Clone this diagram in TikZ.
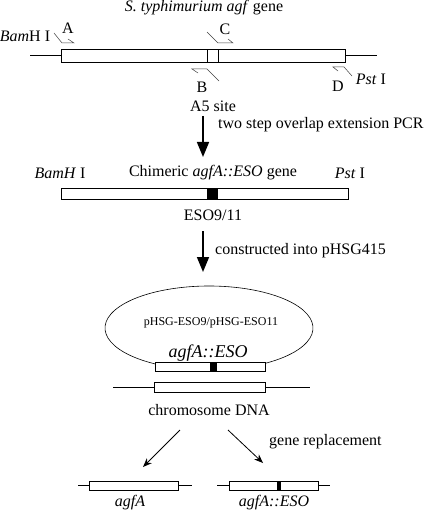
\documentclass[tikz,border=0pt]{standalone}
\usepackage{fontspec}
\setmainfont{Liberation Serif}
\usetikzlibrary{arrows.meta}
\begin{document}
\begin{tikzpicture}[x=1pt,y=-1pt,
  lbl/.style={inner sep=0pt, font=\fontsize{16}{18}\selectfont},
  smalllbl/.style={inner sep=0pt, font=\fontsize{12}{14}\selectfont},
  genebox/.style={draw, line width=0.6pt, fill=white, inner sep=0pt},
  dna/.style={line width=1pt},
  primer/.style={line width=0.5pt, black!75},
  bigarrow/.style={line width=1.6pt, -{Triangle[length=15pt,width=12pt]}},
  thinarrow/.style={line width=0.8pt, -{Stealth[length=9pt,width=7pt]}}]
\useasboundingbox (0,0) rectangle (425,513);
% ---------- top gene ----------
\node[lbl] (title) at (204,8) {\textit{S. typhimurium agf} gene};
\coordinate (l1a) at (30,56);
\coordinate (l1b) at (377,56);
\draw[dna] (l1a) -- (l1b);
\node[genebox, minimum width=284pt, minimum height=13pt] (g1) at (203,56) {};
\draw[line width=0.6pt] (207,50) -- (207,62.5) (218,50) -- (218,62.5);
% primers
\draw[primer] (54,33) -- (62,43) -- (74,43) -- (68,39);
\draw[primer] (207,32) -- (218,43) -- (233,43) -- (228,39);
\draw[primer] (219,81) -- (207,69) -- (192,69) -- (198,73);
\draw[primer] (352,76) -- (344,67) -- (333,67) -- (338,71);
\node[lbl] (bam1) at (25,36) {\textit{Bam}H I};
\node[lbl] (pA) at (68,28) {A};
\node[lbl] (pC) at (225,29) {C};
\node[lbl] (pB) at (202,87) {B};
\node[lbl] (pD) at (338,86) {D};
\node[lbl] (pst1) at (371,79) {\textit{Pst} I};
\node[lbl] (a5) at (213,106) {A5 site};
% ---------- arrow 1 ----------
\coordinate (ar1s) at (203,116);
\coordinate (ar1e) at (203,157);
\draw[bigarrow] (ar1s) -- (ar1e);
\node[lbl, anchor=west] (step1) at (218,125) {two step overlap extension PCR};
% ---------- chimeric gene ----------
\node[lbl] (bam2) at (60,173) {\textit{BamH} I};
\node[lbl] (chim) at (213,173) {Chimeric \textit{agfA::ESO} gene};
\node[lbl] (pst2) at (350,173) {\textit{Pst} I};
\node[genebox, minimum width=287pt, minimum height=11pt] (g2) at (204.5,193.5) {};
\fill (207,188) rectangle (218,199);
\node[lbl] (eso) at (213,215) {ESO9/11};
% ---------- arrow 2 ----------
\coordinate (ar2s) at (203,231);
\coordinate (ar2e) at (203,272);
\draw[bigarrow] (ar2s) -- (ar2e);
\node[lbl, anchor=west] (step2) at (215,251) {constructed into pHSG415};
% ---------- plasmid ----------
\draw[line width=0.6pt] (209,328) ++(121.3:104 and 42) arc[start angle=121.3, end angle=417.4, x radius=104, y radius=42];
\node[smalllbl] (phsg) at (211,323) {pHSG-ESO9/pHSG-ESO11};
\node[inner sep=0pt, font=\fontsize{18}{20}\selectfont\itshape] (pl) at (208,353) {agfA::ESO};
\node[genebox, minimum width=110pt, minimum height=9pt] (g3) at (210,367) {};
\fill (210,362.5) rectangle (216.5,371.5);
% ---------- chromosome ----------
\coordinate (l4a) at (113,387);
\coordinate (l4b) at (310,387);
\draw[dna] (l4a) -- (l4b);
\node[genebox, minimum width=111pt, minimum height=10pt] (g4) at (209.5,387) {};
\node[lbl] (chr) at (209,410) {chromosome DNA};
% ---------- replacement arrows ----------
\coordinate (ar3s) at (180,430);
\coordinate (ar3e) at (143,467);
\coordinate (ar4s) at (228,430);
\coordinate (ar4e) at (263,463);
\draw[thinarrow] (ar3s) -- (ar3e);
\draw[thinarrow] (ar4s) -- (ar4e);
\node[lbl, anchor=west] (rep) at (269,442) {gene replacement};
% ---------- bottom genes ----------
\coordinate (l5a) at (78,485.5);
\coordinate (l5b) at (192,485.5);
\draw[dna] (l5a) -- (l5b);
\node[genebox, minimum width=89pt, minimum height=9pt] (g5) at (133.5,485.5) {};
\node[inner sep=0pt, font=\fontsize{16}{18}\selectfont\itshape] (agfa) at (130,503) {agfA};
\coordinate (l6a) at (217,485.5);
\coordinate (l6b) at (330,485.5);
\draw[dna] (l6a) -- (l6b);
\node[genebox, minimum width=89pt, minimum height=9pt] (g6) at (273.5,485.5) {};
\fill (277,481) rectangle (281,490);
\node[inner sep=0pt, font=\fontsize{16}{18}\selectfont\itshape] (agfaeso) at (274,503) {agfA::ESO};
\end{tikzpicture}
\end{document}
